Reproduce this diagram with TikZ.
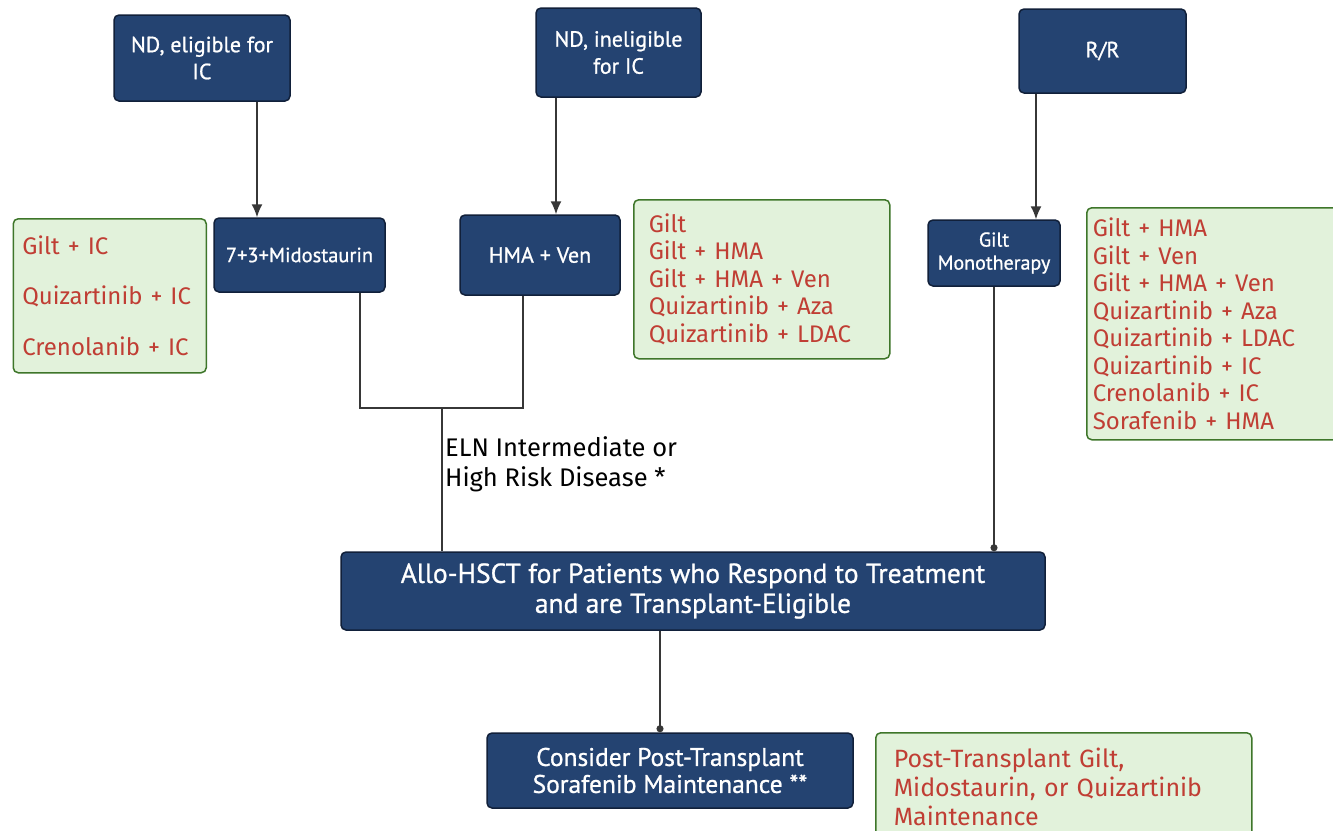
\documentclass[tikz,border=0pt]{standalone}
\usepackage{fontspec}
\setmainfont{Fira Sans}
\newfontfamily\narrowfont[FakeBold=0.9]{PT Sans}
\usetikzlibrary{arrows.meta, positioning}
\definecolor{flowblue}{RGB}{36, 67, 113}
\definecolor{flowblueedge}{RGB}{17, 32, 58}
\definecolor{flowgreen}{RGB}{226, 242, 219}
\definecolor{flowgreenedge}{RGB}{62, 118, 42}
\definecolor{flowred}{RGB}{192, 62, 52}
\definecolor{flowline}{RGB}{55, 55, 55}

\begin{document}
\begin{tikzpicture}[
    x=1pt, y=-1pt,
    stage/.style={
        rectangle,
        rounded corners=5pt,
        draw=flowblueedge,
        fill=flowblue,
        line width=1.5pt,
        text=white,
        align=center,
        inner sep=0pt,
        font=\narrowfont\fontsize{22}{27}\selectfont
    },
    options/.style={
        rectangle,
        rounded corners=5pt,
        draw=flowgreenedge,
        fill=flowgreen,
        line width=1.5pt,
        text=flowred,
        align=left,
        anchor=north west,
        inner ysep=0pt,
        font=\fontsize{24}{27.5}\selectfont
    },
    arrow/.style={
        -{Latex[length=13pt,width=11pt]},
        line width=1.5pt,
        flowline
    },
    link/.style={
        line width=1.5pt,
        flowline
    },
    dotlink/.style={
        -{Circle[length=7pt]},
        line width=1.5pt,
        flowline
    }
]

% Canvas
\fill[white] (0,0) rectangle (1333,830);
\useasboundingbox (0,0) rectangle (1333,830);

% Patient groups
\node[stage, minimum width=176pt, minimum height=86pt] (eligible) at (202,58) {ND, eligible for\\IC};
\node[stage, minimum width=165pt, minimum height=89pt] (ineligible) at (618.5,52.5) {ND, ineligible\\for IC};
\node[stage, minimum width=167pt, minimum height=84pt] (relapsed) at (1102.5,51) {R/R};

% First treatments
\node[stage, minimum width=171pt, minimum height=74pt, font=\narrowfont\fontsize{20.5}{27}\selectfont] (mido) at (299.5,255) {7+3+Midostaurin};
\node[stage, minimum width=160pt, minimum height=80pt] (hmaven) at (540,255) {HMA + Ven};
\node[stage, minimum width=132pt, minimum height=66pt, font=\narrowfont\fontsize{20}{23}\selectfont] (giltmono) at (994,253) {Gilt\\Monotherapy};

% Trial options
\node[options, minimum height=154pt, inner xsep=9pt, text width=175pt, font=\fontsize{24}{50.5}\selectfont] (trialsfit) at (12.5,218) {Gilt + IC\\Quizartinib + IC\\Crenolanib + IC};
\node[options, minimum height=159pt, inner xsep=15pt, text width=226pt] (trialsunfit) at (633,199) {Gilt\\Gilt + HMA\\Gilt + HMA + Ven\\Quizartinib + Aza\\Quizartinib + LDAC};
\node[options, minimum height=232pt, inner xsep=6pt, text width=240pt] (trialsrr) at (1086,207) {Gilt + HMA\\Gilt + Ven\\Gilt + HMA + Ven\\Quizartinib + Aza\\Quizartinib + LDAC\\Quizartinib + IC\\Crenolanib + IC\\Sorafenib + HMA};

% Transplant
\node[stage, minimum width=704pt, minimum height=78pt, font=\narrowfont\fontsize{27.5}{30}\selectfont] (allo) at (693,591) {Allo-HSCT for Patients who Respond to Treatment\\and are Transplant-Eligible};
\node[stage, minimum width=366pt, minimum height=75pt, font=\narrowfont\fontsize{25.5}{27}\selectfont] (maint) at (670,770.5) {Consider Post-Transplant\\Sorafenib Maintenance **};
\node[options, minimum height=108pt, inner xsep=18pt, text width=340pt, font=\fontsize{25}{29}\selectfont] (trialsmaint) at (875,732) {Post-Transplant Gilt,\\Midostaurin, or Quizartinib\\Maintenance};

% Connections
\draw[arrow] ([xshift=55pt]eligible.south) -- ([xshift=-42.5pt]mido.north);
\draw[arrow] ([xshift=-62.5pt]ineligible.south) -- ([xshift=16pt]hmaven.north);
\draw[arrow] ([xshift=-66.5pt]relapsed.south) -- ([xshift=42pt]giltmono.north);
\coordinate (join) at (442,408);
\draw[link] ([xshift=60.5pt]mido.south) |- (join) -| ([xshift=-17pt]hmaven.south);
\draw[link] (join) -- (join |- allo.north);
\node[anchor=north west, align=left, inner sep=0pt, font=\fontsize{25.5}{30}\selectfont] (risk) at (445,436) {ELN Intermediate or\\High Risk Disease *};
\draw[dotlink] (giltmono.south) -- (giltmono.south |- allo.north);
\draw[dotlink] ([xshift=-33pt]allo.south) -- ([xshift=-10pt]maint.north);

\end{tikzpicture}
\end{document}
